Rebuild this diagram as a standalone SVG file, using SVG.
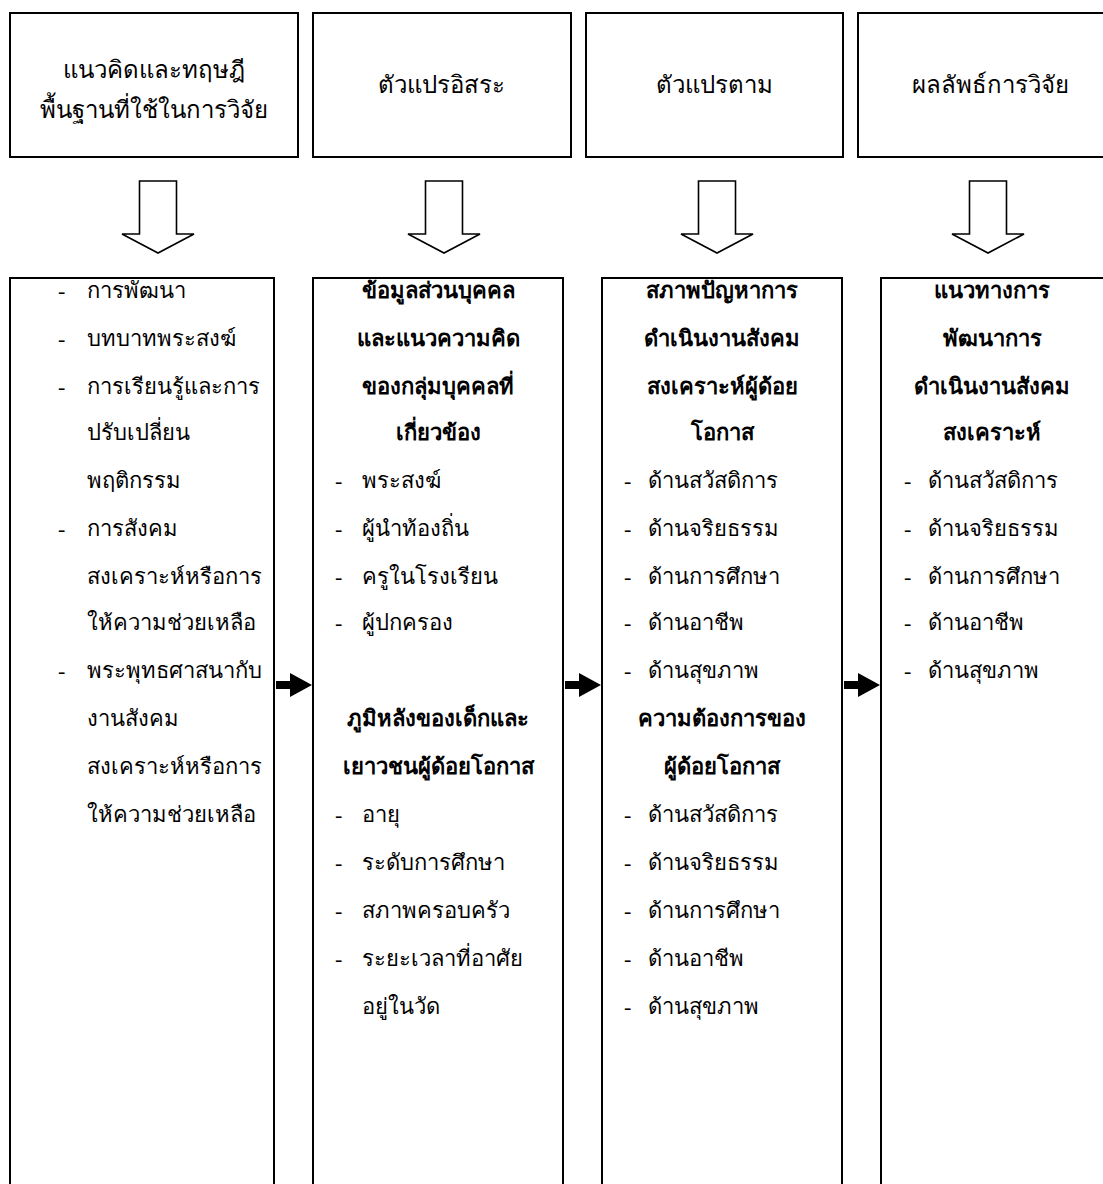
<svg xmlns="http://www.w3.org/2000/svg" width="1103" height="1184" viewBox="0 0 1103 1184">
<style>
.box{fill:#fff;stroke:#000;stroke-width:2}
.hollow{fill:#fff;stroke:#000;stroke-width:1.6;stroke-linejoin:miter}
.solid{fill:#000;stroke:none}
text{font-family:"Liberation Serif",serif;fill:#000}
.h{font-size:24px;text-anchor:middle}
.t{font-size:22px}
.c{font-size:22px;text-anchor:middle}
.b{font-weight:bold}
</style>
<defs>
<path id="down" d="M-18.5,0 H18.5 V53 H36 L0,72 L-36,53 H-18.5 Z"/>
<path id="right" d="M0,-4 H14 V-12 L36,0 L14,12 V4 H0 Z"/>
</defs>
<rect width="1103" height="1184" fill="#fff"/>

<g id="header1">
<rect class="box" x="10" y="13" width="288" height="144"/>
<text class="h" x="154" y="78">แนวคิดและทฤษฎี</text>
<text class="h" x="154" y="118">พื้นฐานที่ใช้ในการวิจัย</text>
</g>
<g id="header2">
<rect class="box" x="313" y="13" width="258" height="144"/>
<text class="h" x="441" y="93">ตัวแปรอิสระ</text>
</g>
<g id="header3">
<rect class="box" x="586" y="13" width="257" height="144"/>
<text class="h" x="714" y="93">ตัวแปรตาม</text>
</g>
<g id="header4">
<rect class="box" x="858" y="13" width="260" height="144"/>
<text class="h" x="990" y="93">ผลลัพธ์การวิจัย</text>
</g>

<g id="box1">
<rect class="box" x="10" y="278" width="264" height="920"/>
<text class="t" x="58" y="298">-</text><text class="t" x="87" y="298">การพัฒนา</text>
<text class="t" x="58" y="346">-</text><text class="t" x="87" y="346">บทบาทพระสงฆ์</text>
<text class="t" x="58" y="394">-</text><text class="t" x="87" y="394">การเรียนรู้และการ</text>
<text class="t" x="87" y="440">ปรับเปลี่ยน</text>
<text class="t" x="87" y="488">พฤติกรรม</text>
<text class="t" x="58" y="536">-</text><text class="t" x="87" y="536">การสังคม</text>
<text class="t" x="87" y="584">สงเคราะห์หรือการ</text>
<text class="t" x="87" y="630">ให้ความช่วยเหลือ</text>
<text class="t" x="58" y="678">-</text><text class="t" x="87" y="678">พระพุทธศาสนากับ</text>
<text class="t" x="87" y="726">งานสังคม</text>
<text class="t" x="87" y="774">สงเคราะห์หรือการ</text>
<text class="t" x="87" y="822">ให้ความช่วยเหลือ</text>
</g>

<g id="box2">
<rect class="box" x="313" y="278" width="250" height="920"/>
<text class="c b" x="438" y="298">ข้อมูลส่วนบุคคล</text>
<text class="c b" x="438" y="346">และแนวความคิด</text>
<text class="c b" x="438" y="394">ของกลุ่มบุคคลที่</text>
<text class="c b" x="438" y="440">เกี่ยวข้อง</text>
<text class="t" x="335" y="488">-</text><text class="t" x="362" y="488">พระสงฆ์</text>
<text class="t" x="335" y="536">-</text><text class="t" x="362" y="536">ผู้นำท้องถิ่น</text>
<text class="t" x="335" y="584">-</text><text class="t" x="362" y="584">ครูในโรงเรียน</text>
<text class="t" x="335" y="630">-</text><text class="t" x="362" y="630">ผู้ปกครอง</text>
<text class="c b" x="438" y="726">ภูมิหลังของเด็กและ</text>
<text class="c b" x="438" y="774">เยาวชนผู้ด้อยโอกาส</text>
<text class="t" x="335" y="822">-</text><text class="t" x="362" y="822">อายุ</text>
<text class="t" x="335" y="870">-</text><text class="t" x="362" y="870">ระดับการศึกษา</text>
<text class="t" x="335" y="918">-</text><text class="t" x="362" y="918">สภาพครอบครัว</text>
<text class="t" x="335" y="966">-</text><text class="t" x="362" y="966">ระยะเวลาที่อาศัย</text>
<text class="t" x="362" y="1014">อยู่ในวัด</text>
</g>

<g id="box3">
<rect class="box" x="602" y="278" width="240" height="920"/>
<text class="c b" x="722" y="298">สภาพปัญหาการ</text>
<text class="c b" x="722" y="346">ดำเนินงานสังคม</text>
<text class="c b" x="722" y="394">สงเคราะห์ผู้ด้อย</text>
<text class="c b" x="722" y="440">โอกาส</text>
<text class="t" x="624" y="488">-</text><text class="t" x="648" y="488">ด้านสวัสดิการ</text>
<text class="t" x="624" y="536">-</text><text class="t" x="648" y="536">ด้านจริยธรรม</text>
<text class="t" x="624" y="584">-</text><text class="t" x="648" y="584">ด้านการศึกษา</text>
<text class="t" x="624" y="630">-</text><text class="t" x="648" y="630">ด้านอาชีพ</text>
<text class="t" x="624" y="678">-</text><text class="t" x="648" y="678">ด้านสุขภาพ</text>
<text class="c b" x="722" y="726">ความต้องการของ</text>
<text class="c b" x="722" y="774">ผู้ด้อยโอกาส</text>
<text class="t" x="624" y="822">-</text><text class="t" x="648" y="822">ด้านสวัสดิการ</text>
<text class="t" x="624" y="870">-</text><text class="t" x="648" y="870">ด้านจริยธรรม</text>
<text class="t" x="624" y="918">-</text><text class="t" x="648" y="918">ด้านการศึกษา</text>
<text class="t" x="624" y="966">-</text><text class="t" x="648" y="966">ด้านอาชีพ</text>
<text class="t" x="624" y="1014">-</text><text class="t" x="648" y="1014">ด้านสุขภาพ</text>
</g>

<g id="box4">
<rect class="box" x="881" y="278" width="240" height="920"/>
<text class="c b" x="992" y="298">แนวทางการ</text>
<text class="c b" x="992" y="346">พัฒนาการ</text>
<text class="c b" x="992" y="394">ดำเนินงานสังคม</text>
<text class="c b" x="992" y="440">สงเคราะห์</text>
<text class="t" x="904" y="488">-</text><text class="t" x="928" y="488">ด้านสวัสดิการ</text>
<text class="t" x="904" y="536">-</text><text class="t" x="928" y="536">ด้านจริยธรรม</text>
<text class="t" x="904" y="584">-</text><text class="t" x="928" y="584">ด้านการศึกษา</text>
<text class="t" x="904" y="630">-</text><text class="t" x="928" y="630">ด้านอาชีพ</text>
<text class="t" x="904" y="678">-</text><text class="t" x="928" y="678">ด้านสุขภาพ</text>
</g>

<g id="connectors">
<use href="#down" class="hollow" x="158" y="181"/>
<use href="#down" class="hollow" x="444" y="181"/>
<use href="#down" class="hollow" x="717" y="181"/>
<use href="#down" class="hollow" x="988" y="181"/>
<use href="#right" class="solid" x="276" y="685"/>
<use href="#right" class="solid" x="565" y="685"/>
<use href="#right" class="solid" x="844" y="685"/>
</g>
</svg>
